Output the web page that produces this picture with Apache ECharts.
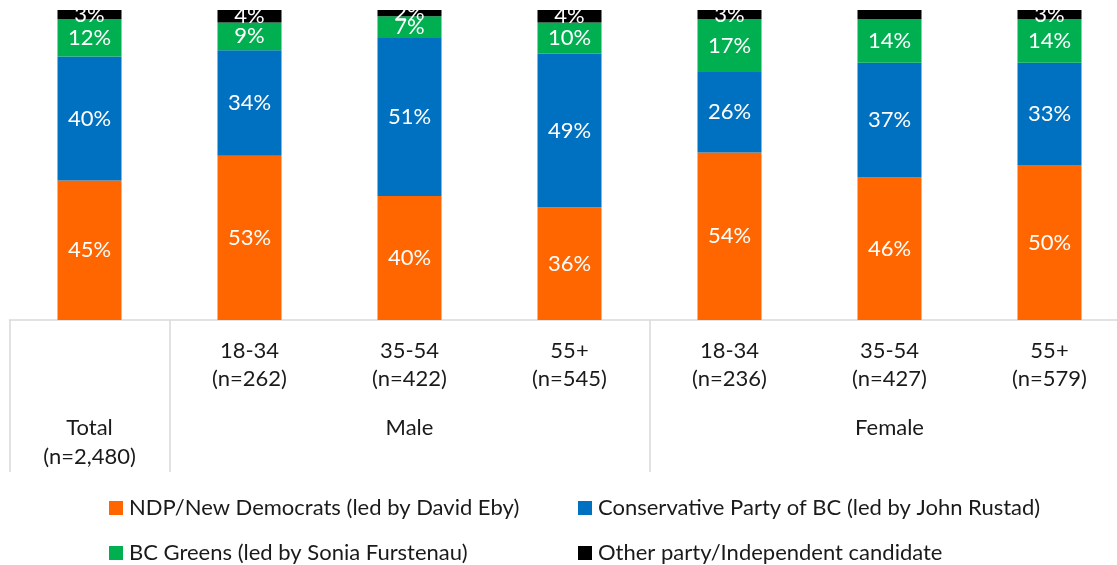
<!DOCTYPE html>
<html>
<head>
<meta charset="utf-8">
<script src="https://cdn.jsdelivr.net/npm/echarts@6/dist/echarts.min.js"></script>
<style>
html,body{margin:0;padding:0;background:#fff;overflow:hidden;width:1117px;height:565px;}
#chart{width:1140px;height:565px;}
</style>
</head>
<body>
<div id="chart"></div>
<script>
// ---- data ----
const categories = ["Total", "Male 18-34", "Male 35-54", "Male 55+", "Female 18-34", "Female 35-54", "Female 55+"];
const ageLabels = ["", "18-34", "35-54", "55+", "18-34", "35-54", "55+"];
const nLabels = ["", "(n=262)", "(n=422)", "(n=545)", "(n=236)", "(n=427)", "(n=579)"];
const groupLabels = ["Total\n(n=2,480)", "", "Male", "", "", "Female", ""];

const seriesNames = [
  "NDP/New Democrats (led by David Eby)",
  "Conservative Party of BC (led by John Rustad)",
  "BC Greens (led by Sonia Furstenau)",
  "Other party/Independent candidate"
];
const ndp = [45, 53, 40, 36, 54, 46, 50];
const conservative = [40, 34, 51, 49, 26, 37, 33];
const greens = [12, 9, 7, 10, 17, 14, 14];
const other = [3, 4, 2, 4, 3, 3, 3];
const otherHiddenLabels = [5];

const colors = ["#FF6600", "#0070C0", "#00B050", "#000000"];
const FONT = "Lato";
const FS = 22;

const allSeries = [ndp, conservative, greens, other];
// 100% stacked: normalise each column so it fills the plot, labels keep the raw percentages
const totals = categories.map((c, i) => allSeries.reduce((s, arr) => s + arr[i], 0));

const chart = echarts.init(document.getElementById('chart'), null, {renderer: 'canvas'});

function mkSeries(name, values, color, hidden) {
  return {
    name: name,
    type: 'bar',
    stack: 'total',
    barWidth: 64,
    itemStyle: {color: color},
    label: {
      show: true,
      position: 'inside',
      color: '#fff',
      fontFamily: FONT,
      fontSize: FS,
      formatter: function (p) { return values[p.dataIndex] + '%'; }
    },
    data: values.map((v, i) => {
      const val = v / totals[i] * 100;
      return (hidden && hidden.indexOf(i) >= 0) ? {value: val, label: {show: false}} : val;
    })
  };
}

function mkLegend(name, left, top) {
  return {
    data: [name],
    left: left,
    top: top,
    padding: 0,
    icon: 'rect',
    itemWidth: 14,
    itemHeight: 14,
    selectedMode: false,
    textStyle: {fontFamily: FONT, fontSize: FS, color: '#1a1a1a', padding: [0, 0, 0, 1]}
  };
}

const option = {
  animation: false,
  backgroundColor: '#fff',
  textStyle: {fontFamily: FONT},
  grid: {left: 9.5, top: 10, bottom: 245, width: 1120, containLabel: false},
  legend: [
    mkLegend(seriesNames[0], 109, 497),
    mkLegend(seriesNames[1], 578, 497),
    mkLegend(seriesNames[2], 109, 542),
    mkLegend(seriesNames[3], 578, 542)
  ],
  xAxis: [
    {
      type: 'category',
      data: categories,
      position: 'bottom',
      axisLine: {show: true, lineStyle: {color: '#d9d9d9', width: 1.5}},
      axisTick: {
        show: true,
        length: 152,
        interval: function (index) { return index === 0 || index === 1 || index === 4; },
        lineStyle: {color: '#d9d9d9', width: 1.5}
      },
      axisLabel: {
        interval: 0,
        margin: 17,
        lineHeight: 28,
        fontFamily: FONT,
        fontSize: FS,
        color: '#1a1a1a',
        formatter: function (v, i) { return ageLabels[i] ? ageLabels[i] + '\n' + nLabels[i] : ''; }
      }
    },
    {
      type: 'category',
      data: categories,
      position: 'bottom',
      offset: 0,
      axisLine: {show: false},
      axisTick: {show: false},
      axisLabel: {
        interval: 0,
        margin: 93,
        lineHeight: 29,
        fontFamily: FONT,
        fontSize: FS,
        color: '#1a1a1a',
        formatter: function (v, i) { return groupLabels[i]; }
      }
    }
  ],
  yAxis: {type: 'value', min: 0, max: 100, show: false, splitLine: {show: false}},
  series: [
    mkSeries(seriesNames[0], ndp, colors[0]),
    mkSeries(seriesNames[1], conservative, colors[1]),
    mkSeries(seriesNames[2], greens, colors[2]),
    mkSeries(seriesNames[3], other, colors[3], otherHiddenLabels)
  ]
};
chart.setOption(option);
</script>
</body>
</html>
